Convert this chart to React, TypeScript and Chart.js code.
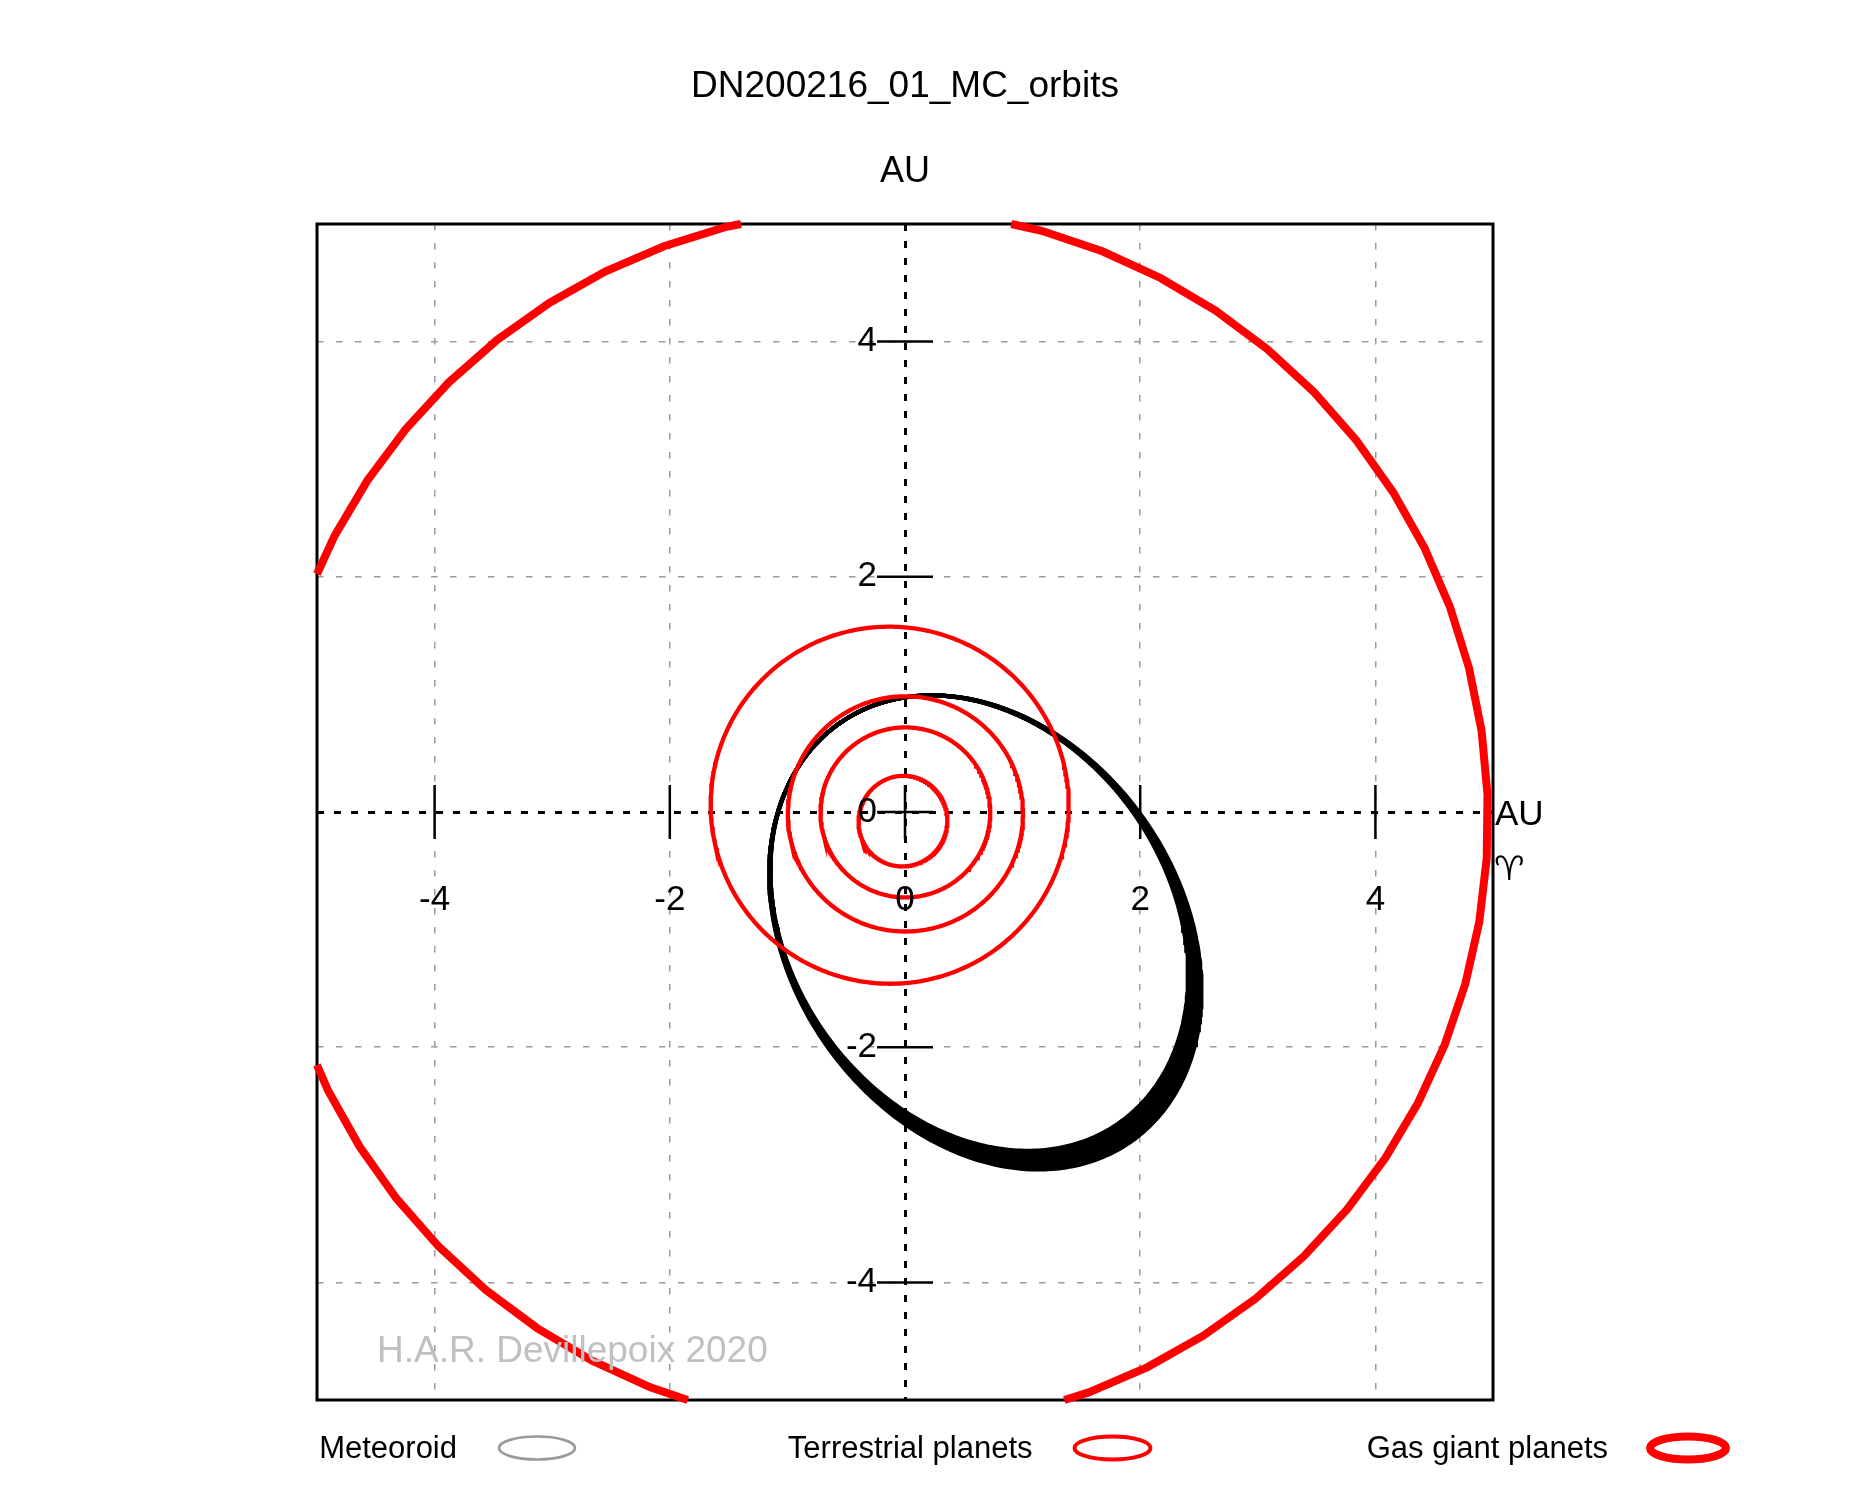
import { useEffect, useRef } from 'react';
import { Chart, registerables } from 'chart.js';

Chart.register(...registerables);

// Axis ticks (AU)
const tickValues = [-4, -2, 0, 2, 4];
const tickLabels = ['-4', '-2', '0', '2', '4'];
const axisLimit = 5;

// Planetary orbital elements (a [AU], e, i [deg], node [deg], arg. of perihelion [deg])
const planetNames = ['Mercury', 'Venus', 'Earth', 'Mars', 'Jupiter'];
const planetA = [0.387, 0.723, 1.0, 1.524, 5.203];
const planetE = [0.2056, 0.0068, 0.0167, 0.0934, 0.0484];
const planetInc = [7.0, 3.39, 0.0, 1.85, 1.3];
const planetNode = [48.33, 76.68, 0.0, 49.56, 100.46];
const planetArgPeri = [29.12, 54.88, 102.94, 286.5, 273.87];
const planetGiant = [false, false, false, false, true];

// Monte Carlo clones of the meteoroid orbit
const cloneA = [2.074, 2.0845, 2.095, 2.1055, 2.116, 2.1265, 2.137, 2.1475, 2.158, 2.1685];
const cloneE = [0.5482, 0.5505, 0.5527, 0.555, 0.5572, 0.5594, 0.5615, 0.5637, 0.5658, 0.5679];
const meteoroidInc = 21.75;
const meteoroidNode = 128.0;
const meteoroidArgPeri = 355.4;

const legendLabels = ['Meteoroid', 'Terrestrial planets', 'Gas giant planets'];
const legendColors = ['#9a9a9a', '#ff0000', '#ff0000'];
const legendWidths = [2.7, 4, 8];

const FONT = "'Liberation Sans', Arial, sans-serif";

type Pt = { x: number | null; y: number | null };

const rad = (d: number) => (d * Math.PI) / 180;

// Ecliptic (x, y) projection of a Keplerian orbit, sampled in eccentric anomaly from E0
function projectOrbit(a: number, e: number, inc: number, node: number, argPeri: number, steps: number, E0 = 0) {
  const ci = Math.cos(rad(inc));
  const cO = Math.cos(rad(node));
  const sO = Math.sin(rad(node));
  const cw = Math.cos(rad(argPeri));
  const sw = Math.sin(rad(argPeri));
  const px = cO * cw - sO * sw * ci;
  const py = sO * cw + cO * sw * ci;
  const qx = -cO * sw - sO * cw * ci;
  const qy = -sO * sw + cO * cw * ci;
  const b = a * Math.sqrt(1 - e * e);
  const pts: { x: number; y: number }[] = [];
  for (let k = 0; k <= steps; k++) {
    const E = E0 + (2 * Math.PI * k) / steps;
    const u = a * (Math.cos(E) - e);
    const v = b * Math.sin(E);
    pts.push({ x: u * px + v * qx, y: u * py + v * qy });
  }
  return pts;
}

// Cut a polyline at the plot box; pieces are separated by null points
function clipToBox(pts: { x: number; y: number }[], lo: number, hi: number): Pt[] {
  const out: Pt[] = [];
  let open = false;
  for (let k = 0; k < pts.length - 1; k++) {
    const p = pts[k];
    const q = pts[k + 1];
    const dx = q.x - p.x;
    const dy = q.y - p.y;
    let t0 = 0;
    let t1 = 1;
    let visible = true;
    const checks = [
      [-dx, p.x - lo],
      [dx, hi - p.x],
      [-dy, p.y - lo],
      [dy, hi - p.y],
    ];
    for (const [pp, qq] of checks) {
      if (pp === 0) {
        if (qq < 0) {
          visible = false;
          break;
        }
      } else {
        const r = qq / pp;
        if (pp < 0) {
          if (r > t1) {
            visible = false;
            break;
          }
          if (r > t0) t0 = r;
        } else {
          if (r < t0) {
            visible = false;
            break;
          }
          if (r < t1) t1 = r;
        }
      }
    }
    if (!visible) {
      if (open) {
        out.push({ x: null, y: null });
        open = false;
      }
      continue;
    }
    if (!open || t0 > 0) {
      if (open) out.push({ x: null, y: null });
      out.push({ x: p.x + t0 * dx, y: p.y + t0 * dy });
      open = true;
    }
    out.push({ x: p.x + t1 * dx, y: p.y + t1 * dy });
    if (t1 < 1) {
      out.push({ x: null, y: null });
      open = false;
    }
  }
  return out;
}

const decorPlugin = {
  id: 'orbitDecor',
  beforeDatasetsDraw(chart: any) {
    const { ctx, chartArea } = chart;
    const { left, top, right, bottom } = chartArea;
    ctx.save();
    ctx.strokeStyle = '#000';
    ctx.lineWidth = 3;
    ctx.strokeRect(left, top, right - left, bottom - top);
    ctx.restore();
  },
  afterDatasetsDraw(chart: any) {
    const { ctx, chartArea } = chart;
    const { left, top, right, bottom } = chartArea;
    const xs = chart.scales.x;
    const ys = chart.scales.y;
    const x0 = xs.getPixelForValue(0);
    const y0 = ys.getPixelForValue(0);
    ctx.save();

    // tick marks crossing the central axes
    ctx.strokeStyle = '#000';
    ctx.lineWidth = 2.5;
    ctx.beginPath();
    tickValues.forEach((v) => {
      const px = xs.getPixelForValue(v);
      ctx.moveTo(px, y0 - 27);
      ctx.lineTo(px, y0 + 27);
      const py = ys.getPixelForValue(v);
      ctx.moveTo(x0 - 28, py);
      ctx.lineTo(x0 + 28, py);
    });
    ctx.stroke();

    // tick labels
    ctx.fillStyle = '#000';
    ctx.font = `35px ${FONT}`;
    ctx.textAlign = 'center';
    ctx.textBaseline = 'alphabetic';
    tickValues.forEach((v, i) => {
      ctx.fillText(tickLabels[i], xs.getPixelForValue(v), y0 + 98);
    });
    ctx.textAlign = 'right';
    ctx.textBaseline = 'middle';
    tickValues.forEach((v, i) => {
      ctx.fillText(tickLabels[i], x0 - 28, ys.getPixelForValue(v));
    });

    // axis unit labels and vernal equinox direction
    ctx.textAlign = 'left';
    ctx.textBaseline = 'alphabetic';
    ctx.font = `35px ${FONT}`;
    ctx.fillText('AU', right + 2, y0 + 13);
    ctx.font = "34px 'DejaVu Sans', sans-serif";
    ctx.fillText('\u2648\uFE0E', right + 1, y0 + 68);

    ctx.textAlign = 'center';
    ctx.font = `36px ${FONT}`;
    ctx.fillText('AU', x0, top - 42.5);
    ctx.font = `37px ${FONT}`;
    ctx.fillText('DN200216_01_MC_orbits', x0, top - 127);

    // author credit
    ctx.textAlign = 'left';
    ctx.fillStyle = '#c0c0c0';
    ctx.font = `37px ${FONT}`;
    ctx.fillText('H.A.R. Devillepoix 2020', left + 60, bottom - 38);

    // legend
    const ly = bottom + 48;
    legendLabels.forEach((label, i) => {
      const cx = left + 220 + i * 575.5;
      ctx.fillStyle = '#000';
      ctx.font = `31px ${FONT}`;
      ctx.textAlign = 'right';
      ctx.fillText(label, cx - 80, ly + 10);
      ctx.strokeStyle = legendColors[i];
      ctx.lineWidth = legendWidths[i];
      ctx.beginPath();
      ctx.ellipse(cx, ly, 38, 11.5, 0, 0, Math.PI * 2);
      ctx.stroke();
    });
    ctx.restore();
  },
};

const gridColor = (c: any) => (c.tick && c.tick.value === 0 ? '#000000' : '#9a9a9a');
const gridWidth = (c: any) => (c.tick && c.tick.value === 0 ? 3 : 1.5);
const gridDash = (c: any) => (c.tick && c.tick.value === 0 ? [7, 10] : [6.5, 12.5]);

export default function App() {
  const canvasRef = useRef<HTMLCanvasElement | null>(null);

  useEffect(() => {
    if (!canvasRef.current) return;

    const planetSets = planetNames.map((name, i) => {
      const giant = planetGiant[i];
      const pts = projectOrbit(
        planetA[i],
        planetE[i],
        planetInc[i],
        planetNode[i],
        planetArgPeri[i],
        giant ? 60 : 360,
        giant ? Math.PI : 0,
      );
      return {
        label: name,
        data: giant ? clipToBox(pts, -axisLimit, axisLimit) : pts,
        borderColor: '#ff0000',
        borderWidth: giant ? 8 : 4.3,
        showLine: true,
        spanGaps: false,
        pointRadius: 0,
        clip: 10,
        order: 0,
      };
    });

    const cloneSets = cloneA.map((a, i) => ({
      label: `MC clone ${i + 1}`,
      data: projectOrbit(a, cloneE[i], meteoroidInc, meteoroidNode, meteoroidArgPeri, 360),
      borderColor: '#000000',
      borderWidth: 4,
      showLine: true,
      pointRadius: 0,
      clip: 2,
      order: 1,
    }));

    const axisOpts = {
      type: 'linear' as const,
      min: -axisLimit,
      max: axisLimit,
      afterBuildTicks: (scale: any) => {
        scale.ticks = tickValues.map((v) => ({ value: v }));
      },
      ticks: { display: false },
      grid: { drawTicks: false, color: gridColor, lineWidth: gridWidth },
      border: { display: false, dash: gridDash },
    };

    const chart = new Chart(canvasRef.current, {
      type: 'scatter',
      data: { datasets: [...planetSets, ...cloneSets] as any },
      options: {
        responsive: false,
        animation: false,
        events: [],
        layout: { padding: { left: 317, top: 224, right: 382, bottom: 100 }, autoPadding: false },
        plugins: {
          legend: { display: false },
          tooltip: { enabled: false },
          title: { display: false },
        },
        scales: { x: axisOpts, y: axisOpts } as any,
      },
      plugins: [decorPlugin],
    });

    return () => chart.destroy();
  }, []);

  return (
    <div style={{ position: 'absolute', left: 0, top: 0, width: 1875, height: 1500, background: '#ffffff' }}>
      <canvas ref={canvasRef} width={1875} height={1500} style={{ display: 'block' }} />
    </div>
  );
}
